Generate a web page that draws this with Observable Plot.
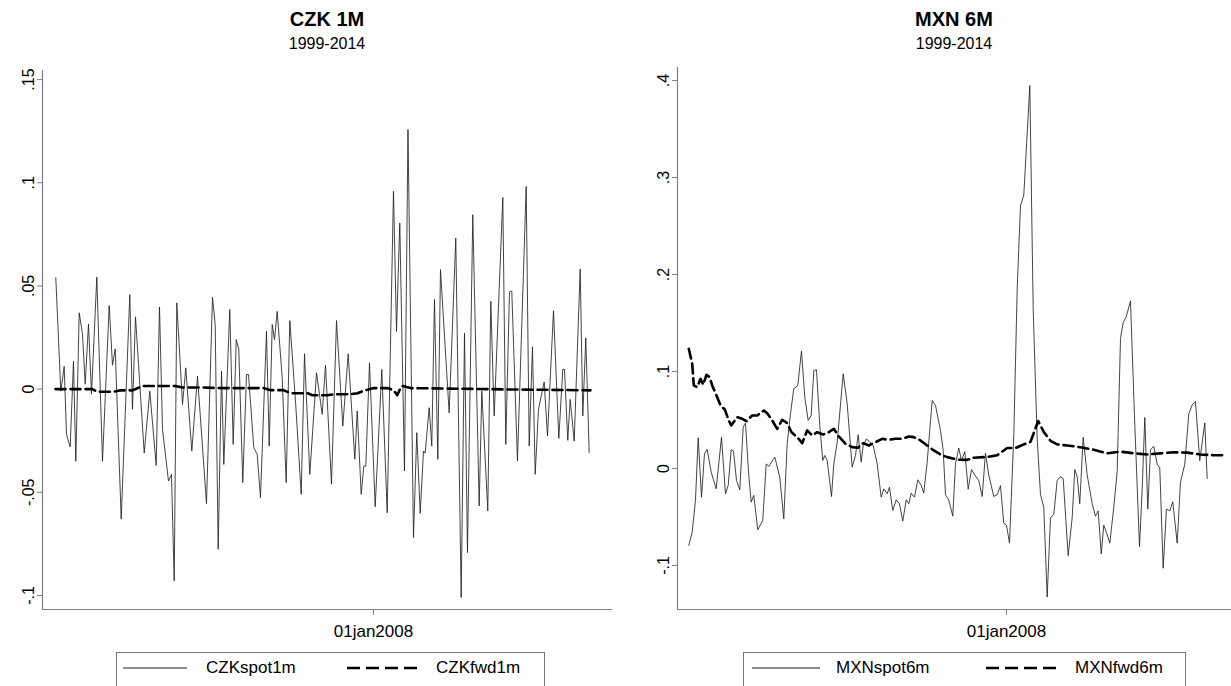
<!DOCTYPE html>
<html><head><meta charset="utf-8">
<script src="https://cdn.jsdelivr.net/npm/d3@7"></script>
<script src="https://cdn.jsdelivr.net/npm/@observablehq/plot@0.6"></script>
<style>
body{margin:0;background:#fff;font-family:"Liberation Sans",Arial,sans-serif;}
#root{position:relative;width:1231px;height:686px;overflow:hidden;background:#fff;}
.panel{position:absolute;top:0;}
.title{position:absolute;text-align:center;font-weight:bold;font-size:20px;top:8px;color:#000;}
.sub{position:absolute;text-align:center;font-size:16px;top:35px;color:#000;}
.legend{position:absolute;border:1px solid #777;top:652px;height:44px;box-sizing:border-box;background:#fff;}
.legend .item{position:absolute;top:5px;font-size:17px;line-height:20px;color:#000;}
.legend svg{position:absolute;top:7px;}
</style>
</head><body><div id="root"></div>
<script>
// ---------- data (decimal years, values) ----------
const czkSpotYear = [1999.008,1999.150,1999.246,1999.311,1999.416,1999.509,1999.575,1999.671,1999.764,1999.841,1999.934,2000.019,2000.169,2000.330,2000.520,2000.613,2000.690,2000.860,2001.103,2001.179,2001.264,2001.511,2001.669,2001.850,2001.944,2002.029,2002.198,2002.283,2002.360,2002.433,2002.595,2002.688,2002.858,2003.019,2003.274,2003.444,2003.520,2003.605,2003.699,2003.764,2003.933,2004.030,2004.115,2004.188,2004.301,2004.406,2004.463,2004.613,2004.709,2004.802,2004.972,2005.049,2005.134,2005.199,2005.275,2005.417,2005.530,2005.632,2005.793,2005.955,2006.048,2006.198,2006.388,2006.549,2006.642,2006.812,2006.954,2007.132,2007.285,2007.472,2007.540,2007.653,2007.726,2007.783,2007.888,2008.049,2008.236,2008.389,2008.567,2008.652,2008.745,2008.878,2008.977,2009.133,2009.226,2009.323,2009.416,2009.464,2009.577,2009.651,2009.727,2009.821,2009.897,2010.143,2010.330,2010.483,2010.577,2010.661,2010.811,2010.993,2011.066,2011.236,2011.321,2011.417,2011.661,2011.745,2011.850,2011.915,2012.076,2012.323,2012.408,2012.501,2012.578,2012.671,2012.832,2012.926,2013.096,2013.246,2013.359,2013.407,2013.500,2013.568,2013.682,2013.851,2013.925,2014.010,2014.106];
const czkSpotValue = [0.054,-0.001,0.011,-0.022,-0.028,0.0135,-0.035,0.037,0.0266,0.0024,0.0316,-0.0024,0.0543,-0.035,0.0405,0.0116,0.0195,-0.063,0.0458,-0.0098,0.035,-0.031,-0.001,-0.037,0.0398,-0.0195,-0.0445,-0.0413,-0.0929,0.0418,-0.0074,0.0103,-0.030,0.0063,-0.0555,0.0445,0.0313,-0.0776,0.0087,-0.0365,0.0386,-0.0268,0.024,0.0194,-0.0453,0.0071,0.007,-0.0284,-0.0316,-0.0526,0.028,-0.0276,0.0313,0.024,0.0377,0.0055,-0.0453,0.0332,-0.0058,-0.051,0.0171,-0.0413,0.0079,-0.0122,0.0116,-0.0461,0.0332,-0.0179,0.0171,-0.034,-0.0106,-0.051,-0.0373,-0.0373,0.0127,-0.057,0.0095,-0.0599,0.0958,0.028,0.0805,-0.0397,0.1258,-0.072,-0.0211,-0.0602,-0.030,-0.031,-0.009,-0.0276,0.0434,-0.034,0.0579,-0.0115,0.0732,-0.101,0.0272,-0.0792,0.0845,-0.0566,-0.001,-0.059,0.0426,-0.013,0.0929,-0.0268,0.0471,0.0475,-0.0348,0.0982,-0.0276,0.0205,-0.0413,-0.0098,0.0035,-0.0227,0.038,-0.0239,0.0095,0.0095,-0.0248,-0.005,-0.0252,0.0582,-0.013,0.0248,-0.0308];
const czkFwdYear = [1999.0,2000.047,2000.189,2000.642,2000.840,2001.179,2001.462,2002.397,2002.595,2003.076,2003.727,2004.887,2005.085,2005.453,2005.652,2006.133,2006.274,2006.699,2006.869,2007.350,2007.548,2007.775,2008.001,2008.397,2008.567,2008.672,2008.765,2008.822,2009.048,2009.897,2011.312,2011.878,2012.727,2014.143];
const czkFwdValue = [0,0,-0.0013,-0.0013,-0.0006,-0.0006,0.0015,0.0015,0.0008,0.0008,0.0005,0.0005,-0.0005,-0.0005,-0.002,-0.002,-0.003,-0.003,-0.0025,-0.0025,-0.002,-0.0005,0.0005,0.0005,-0.0005,-0.003,0.0005,0.0015,0.0005,0.0003,0,-0.0002,-0.0003,-0.0006];

const mxnSpotYear = [1999.008,1999.105,1999.198,1999.275,1999.368,1999.453,1999.529,1999.643,1999.784,1999.934,2000.047,2000.124,2000.209,2000.274,2000.359,2000.452,2000.548,2000.613,2000.707,2000.775,2000.848,2000.961,2001.103,2001.199,2001.273,2001.443,2001.584,2001.697,2001.794,2001.887,2001.980,2002.094,2002.198,2002.292,2002.388,2002.473,2002.547,2002.623,2002.716,2002.801,2002.858,2002.926,2003.048,2003.113,2003.209,2003.379,2003.492,2003.633,2003.727,2003.803,2003.888,2003.945,2004.038,2004.132,2004.228,2004.341,2004.454,2004.528,2004.624,2004.689,2004.783,2004.879,2004.972,2005.066,2005.162,2005.236,2005.303,2005.397,2005.490,2005.586,2005.660,2005.756,2005.898,2005.991,2006.133,2006.209,2006.274,2006.368,2006.481,2006.557,2006.650,2006.727,2006.821,2006.917,2007.010,2007.103,2007.216,2007.313,2007.406,2007.500,2007.641,2007.738,2007.831,2007.924,2008.001,2008.086,2008.208,2008.304,2008.397,2008.491,2008.661,2008.757,2008.870,2008.964,2009.057,2009.153,2009.246,2009.340,2009.436,2009.529,2009.606,2009.747,2009.860,2009.934,2010.002,2010.075,2010.172,2010.285,2010.427,2010.520,2010.597,2010.682,2010.755,2010.831,2010.925,2011.038,2011.134,2011.228,2011.304,2011.389,2011.511,2011.633,2011.766,2011.842,2011.916,2012.001,2012.077,2012.170,2012.266,2012.340,2012.436,2012.529,2012.623,2012.708,2012.832,2012.926,2013.048,2013.161,2013.257,2013.350,2013.472,2013.614,2013.682];
const mxnSpotValue = [-0.0794,-0.0656,-0.033,0.0316,-0.0296,0.0151,0.0196,-0.0038,-0.021,0.0323,-0.0261,-0.0175,0.0193,0.018,-0.0124,-0.022,0.0426,0.0467,-0.0072,-0.0347,-0.0278,-0.0632,-0.0536,0.0048,0.002,0.0117,-0.009,-0.0519,0.0255,0.0564,0.0822,0.0856,0.121,0.0735,0.0495,0.0546,0.101,0.1018,0.0443,0.0082,0.0134,0.0082,-0.0289,0.0048,0.0271,0.0976,0.0667,0.0014,0.0134,0.0347,0.0065,0.0237,0.0306,0.0271,0.0237,0.0048,-0.0296,-0.021,-0.0261,-0.0193,-0.0433,-0.0323,-0.0364,-0.0543,-0.0323,-0.0364,-0.0254,-0.0296,-0.0117,-0.0175,-0.0254,0.0065,0.0701,0.065,0.0392,0.0186,-0.027,-0.0326,-0.0492,0.0044,0.0211,0.0081,0.0174,-0.0214,-0.0011,-0.0067,-0.0123,-0.0289,0.0156,-0.0067,-0.0289,-0.027,-0.0177,-0.0566,-0.0585,-0.077,0.034,0.1858,0.2708,0.282,0.3948,0.1635,0.0303,-0.027,-0.04,-0.1325,-0.051,-0.0473,-0.0123,-0.0086,-0.0104,-0.0899,-0.051,-0.0011,-0.0086,-0.0363,0.0322,-0.0067,-0.0363,-0.0492,-0.0437,-0.088,-0.0585,-0.0659,-0.077,-0.04,-0.003,0.1339,0.1506,0.1562,0.1728,0.0452,-0.0807,-0.0214,0.0526,-0.0419,0.0193,0.023,0.0044,0.0007,-0.1029,-0.0419,-0.0437,-0.0344,-0.077,-0.0141,0.0044,0.0563,0.0655,0.0692,0.0081,0.047,-0.0104];
const mxnFwdYear = [1999.008,1999.105,1999.150,1999.246,1999.340,1999.416,1999.509,1999.603,1999.671,1999.793,1999.906,2000.027,2000.141,2000.209,2000.378,2000.520,2000.642,2000.803,2000.945,2001.131,2001.228,2001.369,2001.511,2001.652,2001.794,2001.915,2002.077,2002.218,2002.360,2002.501,2002.643,2002.813,2002.971,2003.113,2003.254,2003.444,2003.633,2003.792,2003.945,2004.103,2004.293,2004.483,2004.669,2004.859,2005.049,2005.235,2005.377,2005.567,2005.756,2005.943,2006.133,2006.322,2006.509,2006.651,2006.889,2007.075,2007.455,2007.738,2008.021,2008.256,2008.491,2008.680,2008.822,2008.898,2009.057,2009.246,2009.436,2009.719,2010.095,2010.472,2010.851,2011.228,2011.604,2011.983,2012.360,2012.736,2013.116,2013.492,2013.869,2014.200];
const mxnFwdValue = [0.1234,0.108,0.0856,0.0838,0.0924,0.0863,0.0966,0.0941,0.0856,0.0753,0.065,0.0608,0.0495,0.0443,0.0529,0.0512,0.0488,0.0546,0.0546,0.0598,0.057,0.0495,0.0409,0.0502,0.0467,0.0374,0.0323,0.0261,0.0392,0.034,0.0374,0.035,0.0374,0.0409,0.033,0.0254,0.022,0.0213,0.0261,0.0237,0.0271,0.0306,0.0295,0.0306,0.0306,0.033,0.0323,0.0289,0.0237,0.0186,0.0144,0.0117,0.01,0.009,0.0089,0.0111,0.0119,0.0137,0.0211,0.0211,0.0248,0.0274,0.0414,0.0489,0.0377,0.0285,0.0248,0.0237,0.0219,0.0193,0.0156,0.0174,0.0156,0.0144,0.0156,0.0167,0.0163,0.0144,0.0137,0.0137];

// ---------- ticks and labels ----------
const czkYTicks = [-0.1,-0.05,0,0.05,0.1,0.15];
const czkYTickLabels = ["-.1","-.05","0",".05",".1",".15"];
const mxnYTicks = [-0.1,0,0.1,0.2,0.3,0.4];
const mxnYTickLabels = ["-.1","0",".1",".2",".3",".4"];
const xTickYears = [2008];
const xTickLabels = ["01jan2008"];
const panelTitles = ["CZK 1M","MXN 6M"];
const panelSubtitles = ["1999-2014","1999-2014"];
const legendLabels = [["CZKspot1m","CZKfwd1m"],["MXNspot6m","MXNfwd6m"]];

const FONT = '"Liberation Sans", Arial, sans-serif';
const AXIS = "#808080";

function makePanel(o) {
  const spot = o.spotT.map((t, i) => ({t, v: o.spotV[i]}));
  const fwd = o.fwdT.map((t, i) => ({t, v: o.fwdV[i]}));
  return Plot.plot({
    width: o.width, height: o.height,
    marginTop: o.mt, marginBottom: o.mb, marginLeft: o.ml, marginRight: o.mr,
    style: {fontFamily: FONT, fontSize: "16px", color: "#000", background: "transparent", overflow: "visible"},
    x: {domain: o.xDomain},
    y: {domain: o.yDomain},
    marks: [
      Plot.ruleX([o.xDomain[0]], {stroke: AXIS, strokeWidth: 1.2}),
      Plot.ruleY([o.yDomain[0]], {stroke: AXIS, strokeWidth: 1.2}),
      Plot.axisY(o.yTicks, {tickRotate: -90, tickSize: 5, stroke: AXIS, fill: "#000", fontSize: 16,
        tickFormat: d => o.yLabels[o.yTicks.indexOf(d)], label: null, tickPadding: 4}),
      Plot.axisX(xTickYears, {tickSize: 6, stroke: AXIS, fill: "#000", fontSize: 17,
        tickFormat: d => xTickLabels[xTickYears.indexOf(d)], label: null, tickPadding: 9}),
      Plot.line(spot, {x: "t", y: "v", stroke: "#222", strokeWidth: 0.85}),
      Plot.line(fwd, {x: "t", y: "v", stroke: "#000", strokeWidth: 2.6, strokeDasharray: "10,5"})
    ]
  });
}

const root = document.getElementById("root");
const panels = [
  {left: 0, width: 615, height: 686, mt: 70, mb: 77, ml: 42, mr: 3,
   xDomain: [1998.632, 2014.766], yDomain: [-0.1068, 0.1544],
   spotT: czkSpotYear, spotV: czkSpotValue, fwdT: czkFwdYear, fwdV: czkFwdValue,
   yTicks: czkYTicks, yLabels: czkYTickLabels,
   plotL: 42, plotR: 612, legL: 116, legR: 545, lineA: [6, 70], textA: 89, lineB: [230, 303], textB: 319},
  {left: 635, width: 596, height: 686, mt: 67, mb: 77, ml: 42, mr: 0,
   xDomain: [1998.689, 2014.37], yDomain: [-0.1454, 0.4134],
   spotT: mxnSpotYear, spotV: mxnSpotValue, fwdT: mxnFwdYear, fwdV: mxnFwdValue,
   yTicks: mxnYTicks, yLabels: mxnYTickLabels,
   plotL: 677, plotR: 1231, legL: 743, legR: 1186, lineA: [8, 76], textA: 92, lineB: [242, 316], textB: 331}
];

panels.forEach((p, k) => {
  const svg = makePanel(p);
  svg.classList.add("panel");
  svg.style.left = p.left + "px";
  root.appendChild(svg);

  const cx = (p.plotL + p.plotR) / 2;
  const t = document.createElement("div");
  t.className = "title"; t.textContent = panelTitles[k];
  t.style.left = (cx - 150) + "px"; t.style.width = "300px";
  root.appendChild(t);
  const s = document.createElement("div");
  s.className = "sub"; s.textContent = panelSubtitles[k];
  s.style.left = (cx - 150) + "px"; s.style.width = "300px";
  root.appendChild(s);

  const lg = document.createElement("div");
  lg.className = "legend";
  lg.style.left = p.legL + "px"; lg.style.width = (p.legR - p.legL) + "px";
  const mk = (x0, x1, dashed) => {
    const ns = "http://www.w3.org/2000/svg";
    const sv = document.createElementNS(ns, "svg");
    sv.setAttribute("width", x1 - x0 + 4); sv.setAttribute("height", 16);
    sv.style.left = x0 + "px";
    const ln = document.createElementNS(ns, "line");
    ln.setAttribute("x1", 0); ln.setAttribute("x2", x1 - x0);
    ln.setAttribute("y1", 8); ln.setAttribute("y2", 8);
    ln.setAttribute("stroke", "#000");
    ln.setAttribute("stroke-width", dashed ? 2.6 : 0.9);
    if (dashed) ln.setAttribute("stroke-dasharray", "13,6");
    sv.appendChild(ln);
    return sv;
  };
  lg.appendChild(mk(p.lineA[0], p.lineA[1], false));
  lg.appendChild(mk(p.lineB[0], p.lineB[1], true));
  [[p.textA, legendLabels[k][0]], [p.textB, legendLabels[k][1]]].forEach(([x, txt]) => {
    const d = document.createElement("div");
    d.className = "item"; d.style.left = x + "px"; d.textContent = txt;
    lg.appendChild(d);
  });
  root.appendChild(lg);
});
</script>
</body></html>
